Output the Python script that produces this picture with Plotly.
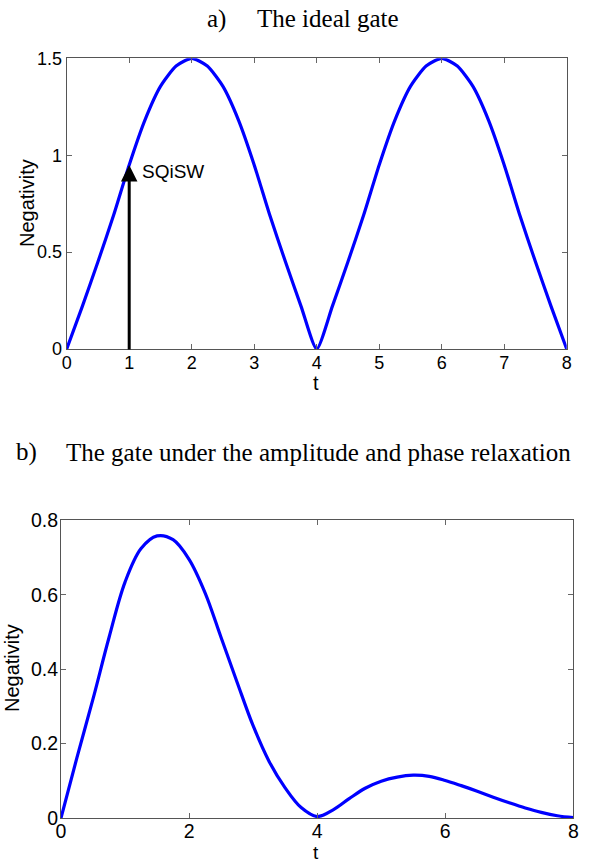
import plotly.graph_objects as go

# ---- data ----
t_vals = [0, 0.25, 0.5, 0.75, 1, 1.25, 1.5, 1.75, 2, 2.25, 2.5, 2.75, 3, 3.25, 3.5, 3.75, 4,
          4.25, 4.5, 4.75, 5, 5.25, 5.5, 5.75, 6, 6.25, 6.5, 6.75, 7, 7.25, 7.5, 7.75, 8]

neg_ideal = [0, 0.22, 0.45, 0.69, 0.95, 1.18, 1.355, 1.46, 1.5, 1.46, 1.355, 1.18, 0.95, 0.69, 0.45, 0.22, 0,
             0.22, 0.45, 0.69, 0.95, 1.18, 1.355, 1.46, 1.5, 1.46, 1.355, 1.18, 0.95, 0.69, 0.45, 0.22, 0]

neg_relax = [0, 0.163, 0.32, 0.485, 0.634, 0.724, 0.758, 0.748, 0.695, 0.605, 0.485, 0.365, 0.248, 0.152, 0.081, 0.028, 0.004,
             0.022, 0.052, 0.08, 0.099, 0.11, 0.115, 0.112, 0.101, 0.087, 0.072, 0.056, 0.041, 0.027, 0.015, 0.006, 0.001]

x_ticks_a = [0, 1, 2, 3, 4, 5, 6, 7, 8]
y_ticks_a = [0, 0.5, 1, 1.5]
y_ticklabels_a = ["0", "0.5", "1", "1.5"]
x_ticks_b = [0, 2, 4, 6, 8]
y_ticks_b = [0, 0.2, 0.4, 0.6, 0.8]
y_ticklabels_b = ["0", "0.2", "0.4", "0.6", "0.8"]

marker_t = 1
marker_val = 0.95
marker_label = "SQiSW"

W, H = 601, 864

def px_x(p):
    return p / W

def px_y(p):
    return 1 - p / H

fig = go.Figure()
fig.add_trace(go.Scatter(x=t_vals, y=neg_ideal, mode="lines", line=dict(color="#0000FF", width=3.2, shape="spline", smoothing=0.6),
                         xaxis="x", yaxis="y", showlegend=False, hoverinfo="skip"))
fig.add_trace(go.Scatter(x=t_vals, y=neg_relax, mode="lines", line=dict(color="#0000FF", width=3.2, shape="spline", smoothing=1.0),
                         xaxis="x2", yaxis="y2", showlegend=False, hoverinfo="skip"))

axis_common = dict(showgrid=False, zeroline=False, showline=True, linecolor="#555555", linewidth=1,
                   mirror="ticks", ticks="inside", ticklen=5, tickcolor="#666666", tickwidth=1,
                   color="#000000", automargin=False)

tick_font_a = dict(family="Arial, Liberation Sans, sans-serif", size=18, color="#000000")
tick_font_b = dict(family="Arial, Liberation Sans, sans-serif", size=19.5, color="#000000")

fig.update_layout(
    width=W, height=H, autosize=False,
    margin=dict(l=0, r=0, t=0, b=0, pad=0, autoexpand=False),
    paper_bgcolor="white", plot_bgcolor="white",
    xaxis=dict(domain=[px_x(66.7), px_x(566.7)], range=[0, 8], tickvals=x_ticks_a, ticktext=[str(v) for v in x_ticks_a],
               anchor="y", tickfont=tick_font_a, ticklabelstandoff=-3, **axis_common),
    yaxis=dict(domain=[px_y(349), px_y(58.3)], range=[0, 1.5], tickvals=y_ticks_a, ticktext=y_ticklabels_a,
               anchor="x", tickfont=tick_font_a, ticklabelstandoff=0, **axis_common),
    xaxis2=dict(domain=[px_x(61), px_x(573.3)], range=[0, 8], tickvals=x_ticks_b, ticktext=[str(v) for v in x_ticks_b],
                anchor="y2", tickfont=tick_font_b, ticklabelstandoff=-4, **axis_common),
    yaxis2=dict(domain=[px_y(818), px_y(520.3)], range=[0, 0.8], tickvals=y_ticks_b, ticktext=y_ticklabels_b,
                anchor="x2", tickfont=tick_font_b, ticklabelstandoff=-2, **axis_common),
)

serif = "Times New Roman, Liberation Serif, serif"
sans = "Arial, Liberation Sans, sans-serif"

annotations = [
    # panel titles
    dict(text="a)", x=px_x(205), y=px_y(19), xref="paper", yref="paper", xanchor="left", yanchor="middle",
         showarrow=False, font=dict(family=serif, size=25, color="black")),
    dict(text="The ideal gate", x=px_x(255), y=px_y(19), xref="paper", yref="paper", xanchor="left", yanchor="middle",
         showarrow=False, font=dict(family=serif, size=25, color="black")),
    dict(text="b)", x=px_x(14), y=px_y(452), xref="paper", yref="paper", xanchor="left", yanchor="middle",
         showarrow=False, font=dict(family=serif, size=25, color="black")),
    dict(text="The gate under the amplitude and phase relaxation", x=px_x(64), y=px_y(452), xref="paper", yref="paper",
         xanchor="left", yanchor="middle", showarrow=False, font=dict(family=serif, size=25, color="black")),
    # axis titles
    dict(text="t", x=px_x(316), y=px_y(383), xref="paper", yref="paper", xanchor="center", yanchor="middle",
         showarrow=False, font=dict(family=sans, size=20, color="black")),
    dict(text="Negativity", x=px_x(27), y=px_y(203), xref="paper", yref="paper", xanchor="center", yanchor="middle",
         textangle=-90, showarrow=False, font=dict(family=sans, size=20, color="black")),
    dict(text="t", x=px_x(316), y=px_y(852), xref="paper", yref="paper", xanchor="center", yanchor="middle",
         showarrow=False, font=dict(family=sans, size=19, color="black")),
    dict(text="Negativity", x=px_x(12), y=px_y(668), xref="paper", yref="paper", xanchor="center", yanchor="middle",
         textangle=-90, showarrow=False, font=dict(family=sans, size=20, color="black")),
    # arrow marking SQiSW
    dict(text="", x=marker_t, y=marker_val, ax=marker_t, ay=-0.01, xref="x", yref="y", axref="x", ayref="y",
         showarrow=True, arrowhead=2, arrowsize=1.1, arrowwidth=3, arrowcolor="black"),
    dict(text=marker_label, x=1.17, y=0.915, xref="x", yref="y", xanchor="left", yanchor="middle",
         showarrow=False, font=dict(family=sans, size=19, color="black")),
]
fig.update_layout(annotations=annotations)

fig.write_html("out.html", config={"displayModeBar": False, "staticPlot": True},
               post_script="document.body.style.margin='0px';document.body.style.overflow='hidden';")
